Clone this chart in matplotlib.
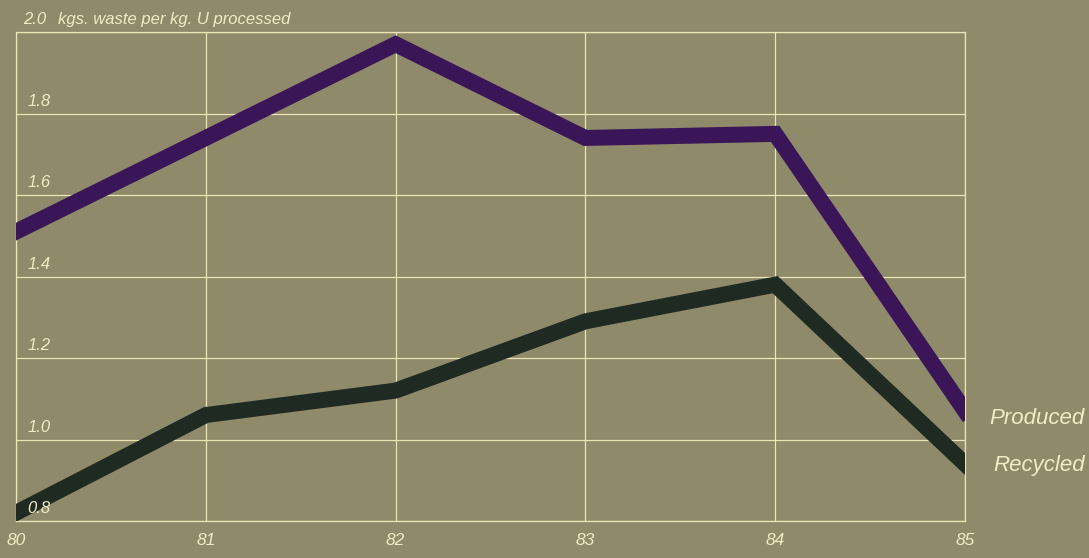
import matplotlib
matplotlib.use("Agg")
import matplotlib.pyplot as plt
from matplotlib import font_manager

years = [80, 81, 82, 83, 84, 85]
produced = [1.51, 1.74, 1.97, 1.74, 1.75, 1.07]
recycled = [0.82, 1.06, 1.12, 1.29, 1.38, 0.94]
y_ticks = [0.8, 1.0, 1.2, 1.4, 1.6, 1.8, 2.0]
x_labels = ["80", "81", "82", "83", "84", "85"]
unit_label = "kgs. waste per kg. U processed"

bg = "#8e8a6a"
grid_col = "#ebe5b8"
text_col = "#f2ecc4"
produced_col = "#3a1658"
recycled_col = "#1f2a22"

names = {f.name for f in font_manager.fontManager.ttflist}
family = ["Liberation Sans Narrow"] if "Liberation Sans Narrow" in names else ["Liberation Sans", "DejaVu Sans"]
plt.rcParams["font.family"] = family

fig = plt.figure(figsize=(10.89, 5.58), dpi=100, facecolor=bg)
ax = fig.add_axes([16 / 1089, 1 - 521 / 558, (965 - 16) / 1089, (521 - 32) / 558])
ax.set_facecolor(bg)
ax.set_xlim(years[0], years[-1])
ax.set_ylim(y_ticks[0], y_ticks[-1])

for x in years:
    ax.axvline(x, color=grid_col, lw=0.9, zorder=1)
for y in y_ticks:
    ax.axhline(y, color=grid_col, lw=0.9, zorder=1)

ax.plot(years, produced, color=produced_col, lw=11.5, solid_joinstyle="miter", zorder=3)
ax.plot(years, recycled, color=recycled_col, lw=11.5, solid_joinstyle="miter", zorder=3)

for s in ax.spines.values():
    s.set_color(grid_col)
    s.set_linewidth(0.9)
ax.set_xticks([])
ax.set_yticks([])

# y labels sit just above each gridline, inside the frame
for y in y_ticks[:-1]:
    ax.text(80.06, y + 0.012, f"{y:.1f}", color=text_col, fontsize=12, style="italic",
            ha="left", va="bottom", zorder=4)
ax.text(80.035, 2.0 + 0.012, f"{2.0:.1f}", color=text_col, fontsize=12, style="italic",
        ha="left", va="bottom", clip_on=False)
ax.text(80.22, 2.0 + 0.012, unit_label, color=text_col, fontsize=12, style="italic",
        ha="left", va="bottom", clip_on=False)

for x, lab in zip(years, x_labels):
    ax.text(x, 0.8 - 0.03, lab, color=text_col, fontsize=12.5, style="italic",
            ha="center", va="top", clip_on=False)

fig.text(1085 / 1089, 1 - 418 / 558, "Produced", color=text_col, fontsize=16,
         style="italic", ha="right", va="center")
fig.text(1085 / 1089, 1 - 465 / 558, "Recycled", color=text_col, fontsize=16,
         style="italic", ha="right", va="center")

fig.savefig("out.png", dpi=100, facecolor=bg)
